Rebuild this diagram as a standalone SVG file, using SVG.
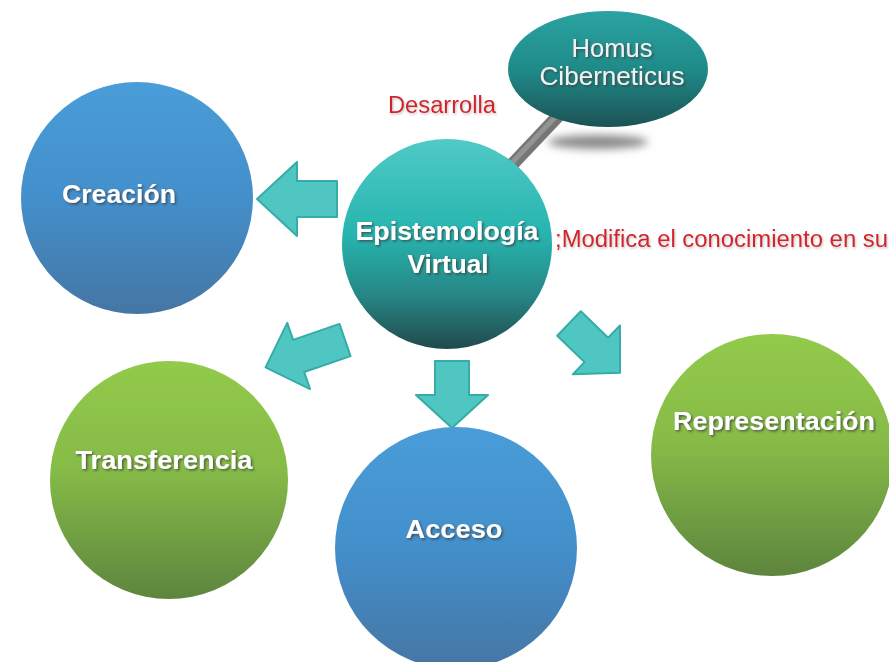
<svg xmlns="http://www.w3.org/2000/svg" width="889" height="662" viewBox="0 0 889 662">
  <defs>
    <linearGradient id="gBlue" x1="0" y1="0" x2="0" y2="1">
      <stop offset="0" stop-color="#499dd8"/>
      <stop offset="0.5" stop-color="#438fcb"/>
      <stop offset="1" stop-color="#4576a4"/>
    </linearGradient>
    <linearGradient id="gGreen" x1="0" y1="0" x2="0" y2="1">
      <stop offset="0" stop-color="#92ca4b"/>
      <stop offset="0.45" stop-color="#86bb47"/>
      <stop offset="1" stop-color="#5d853e"/>
    </linearGradient>
    <linearGradient id="gCore" x1="0" y1="0" x2="0" y2="1">
      <stop offset="0" stop-color="#50cac6"/>
      <stop offset="0.45" stop-color="#27b5af"/>
      <stop offset="0.75" stop-color="#268584"/>
      <stop offset="1" stop-color="#214a4c"/>
    </linearGradient>
    <linearGradient id="gHomus" x1="0" y1="0" x2="0" y2="1">
      <stop offset="0" stop-color="#2ba3a1"/>
      <stop offset="0.5" stop-color="#1f8b89"/>
      <stop offset="1" stop-color="#1d5254"/>
    </linearGradient>
    <filter id="txtShadow" x="-10%" y="-30%" width="120%" height="160%">
      <feDropShadow dx="1.5" dy="1.5" stdDeviation="0.8" flood-color="#3a3a3a" flood-opacity="0.75"/>
    </filter>
    <filter id="redShadow" x="-10%" y="-30%" width="120%" height="160%">
      <feDropShadow dx="1" dy="1.5" stdDeviation="1" flood-color="#888" flood-opacity="0.5"/>
    </filter>
    <filter id="blur4" x="-50%" y="-200%" width="200%" height="500%">
      <feGaussianBlur stdDeviation="4"/>
    </filter>
  </defs>
  <style>
    .arrow { fill: #50c6c2; stroke: #35aca7; stroke-width: 2; stroke-linejoin: round; }
    .lbl { font-family: "Liberation Sans", Arial, sans-serif; font-weight: bold; font-size: 25px; fill: #ffffff; text-anchor: middle; filter: url(#txtShadow); }
    .lblReg { font-family: "Liberation Sans", Arial, sans-serif; font-size: 25px; fill: #f2f2f2; text-anchor: middle; filter: url(#txtShadow); }
    .red { font-family: "Liberation Sans", Arial, sans-serif; font-size: 23px; fill: #d4232a; filter: url(#redShadow); }
  </style>

  <rect width="889" height="662" fill="#ffffff"/>

  <!-- rod linking the core to the Homus bubble, plus the four block arrows -->
  <g id="connectors">
    <line x1="505" y1="172" x2="560" y2="114" stroke="#767676" stroke-width="13"/>
    <line x1="504" y1="171" x2="559" y2="113" stroke="#939393" stroke-width="5"/>
    <polygon class="arrow" points="0,-18 40,-18 40,-37 80,0 40,37 40,18 0,18" transform="translate(337,199) rotate(180)"/>
    <polygon class="arrow" points="0,-17 49,-17 49,-35 84,0 49,35 49,17 0,17" transform="translate(345,340) rotate(161)"/>
    <polygon class="arrow" points="0,-17 34,-17 34,-36 67,0 34,36 34,17 0,17" transform="translate(452,361) rotate(90)"/>
    <polygon class="arrow" points="0,-17 38,-17 38,-34 71,0 38,34 38,17 0,17" transform="translate(569,323.5) rotate(44)"/>
  </g>

  <g id="homus">
    <ellipse cx="598" cy="142" rx="50" ry="7" fill="#8a8a8a" filter="url(#blur4)"/>
    <ellipse cx="608" cy="69" rx="100" ry="58" fill="url(#gHomus)"/>
    <text class="lblReg" x="612" y="57" textLength="81" lengthAdjust="spacingAndGlyphs">Homus</text>
    <text class="lblReg" x="612" y="85" textLength="145" lengthAdjust="spacingAndGlyphs">Ciberneticus</text>
  </g>

  <g id="core">
    <circle cx="447" cy="244" r="105" fill="url(#gCore)"/>
    <text class="lbl" x="447" y="240" textLength="183" lengthAdjust="spacingAndGlyphs">Epistemología</text>
    <text class="lbl" x="448" y="273" textLength="81" lengthAdjust="spacingAndGlyphs">Virtual</text>
  </g>

  <g id="creacion">
    <circle cx="137" cy="198" r="116" fill="url(#gBlue)"/>
    <text class="lbl" x="119" y="203" textLength="114" lengthAdjust="spacingAndGlyphs">Creación</text>
  </g>

  <g id="transferencia">
    <circle cx="169" cy="480" r="119" fill="url(#gGreen)"/>
    <text class="lbl" x="164" y="469" textLength="177" lengthAdjust="spacingAndGlyphs">Transferencia</text>
  </g>

  <g id="acceso">
    <circle cx="456" cy="548" r="121" fill="url(#gBlue)"/>
    <text class="lbl" x="454" y="538" textLength="97" lengthAdjust="spacingAndGlyphs">Acceso</text>
  </g>

  <g id="representacion">
    <circle cx="772" cy="455" r="121" fill="url(#gGreen)"/>
    <text class="lbl" x="774" y="430" textLength="202" lengthAdjust="spacingAndGlyphs">Representación</text>
  </g>

  <g id="labels">
    <text class="red" x="388" y="113" textLength="108" lengthAdjust="spacingAndGlyphs">Desarrolla</text>
    <text class="red" x="555" y="247" textLength="333" lengthAdjust="spacingAndGlyphs">;Modifica el conocimiento en su</text>
  </g>
</svg>
